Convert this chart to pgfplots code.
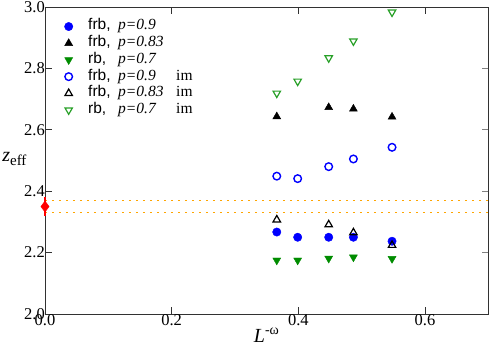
\documentclass[border=0pt]{standalone}
\usepackage{fontspec}
\setmainfont{Liberation Serif}
\setsansfont{Liberation Sans}
\usepackage{pgfplots}
\pgfplotsset{compat=1.18}
\definecolor{cBlue}{RGB}{0,0,255}
\definecolor{cGreen}{RGB}{0,140,0}
\definecolor{cGreenL}{RGB}{40,160,40}
\definecolor{cOrange}{RGB}{255,165,0}
\definecolor{cRed}{RGB}{255,0,0}
\definecolor{axc}{RGB}{50,50,50}
\newcommand{\legtxt}[3]{\makebox[30pt][l]{\sffamily #1}\makebox[58pt][l]{\textit{#2}}#3}
\begin{document}
\begin{tikzpicture}
\begin{axis}[
  name=ax,
  scale only axis, width=443.3pt, height=307pt,
  xmin=0, xmax=0.7, ymin=2.0, ymax=3.0,
  xtick={0,0.2,0.4,0.6}, ytick={2.0,2.2,2.4,2.6,2.8,3.0},
  xticklabels={0.0,0.2,0.4,0.6}, yticklabels={2.0,2.2,2.4,2.6,2.8,3.0},
  ytick pos=left,
  tick align=inside, major tick length=7pt,
  axis line style={axc, line width=0.9pt}, tick style={axc, line width=0.9pt},
  ticklabel style={font=\fontsize{16.5}{18}\selectfont, inner sep=1pt},
  /pgf/number format/assume math mode=true,
  xticklabel style={yshift=1pt},
  yticklabel style={xshift=1pt},
  xlabel={\textit{L}\textsuperscript{-ω}},
  xlabel style={font=\fontsize{20}{22}\selectfont, yshift=2pt},
  clip=false,
  legend style={at={(axis description cs:0,1)}, anchor=north west, xshift=12pt, yshift=-9pt,
    draw=none, fill=none, font=\fontsize{15.5}{16}\selectfont, row sep=0pt,
    nodes={inner sep=0pt, text height=11.7pt, text depth=5pt}},
  legend cell align=left,
  legend image code/.code={\path[draw=none, fill=none] (0pt,-0.1pt) rectangle (28pt,0.1pt); \draw[#1] plot coordinates {(8.5pt,0pt)};},
]
\addplot[only marks, mark=*, mark size=4.2pt, cBlue] coordinates {
  (0.366,2.267) (0.399,2.250) (0.448,2.250) (0.487,2.250) (0.548,2.237)};
\addlegendentry{\legtxt{frb,}{p=0.9}{}}
\addplot[only marks, mark=triangle*, mark size=4.6pt, black] coordinates {
  (0.366,2.643) (0.448,2.673) (0.487,2.668) (0.548,2.642)};
\addlegendentry{\legtxt{frb,}{p=0.83}{}}
\addplot[only marks, mark=triangle*, mark size=4.6pt, cGreen, mark options={rotate=180}] coordinates {
  (0.366,2.175) (0.399,2.175) (0.448,2.181) (0.487,2.185) (0.548,2.180)};
\addlegendentry{\legtxt{rb,}{p=0.7}{}}
\addplot[only marks, mark=o, mark size=3.8pt, cBlue, line width=1.4pt, mark options={fill=white}] coordinates {
  (0.366,2.449) (0.399,2.441) (0.448,2.480) (0.487,2.505) (0.548,2.543)};
\addlegendentry{\legtxt{frb,}{p=0.9}{im}}
\addplot[only marks, mark=triangle, mark size=4.3pt, black, line width=1.2pt, mark options={fill=white}] coordinates {
  (0.366,2.307) (0.448,2.291) (0.487,2.265) (0.548,2.224)};
\addlegendentry{\legtxt{frb,}{p=0.83}{im}}
\addplot[only marks, mark=triangle, mark size=4.3pt, cGreenL, line width=1.2pt, mark options={rotate=180, fill=white}] coordinates {
  (0.366,2.719) (0.399,2.758) (0.448,2.834) (0.487,2.889) (0.548,2.983)};
\addlegendentry{\legtxt{rb,}{p=0.7}{im}}
\addplot[cOrange, line width=1.6pt, dash pattern=on 1.6pt off 5.4pt, forget plot] coordinates {(0,2.37) (0.7,2.37)};
\addplot[cOrange, line width=1.6pt, dash pattern=on 1.6pt off 5.4pt, forget plot] coordinates {(0,2.33) (0.7,2.33)};
\addplot[only marks, mark=diamond*, mark size=5.5pt, cRed, forget plot,
  error bars/.cd, y dir=both, y explicit, error mark options={mark size=3.5pt, line width=1.8pt, cRed},
  error bar style={line width=1.8pt, cRed}] coordinates {(0,2.35) +- (0,0.02)};
\node[font=\fontsize{20}{21}\selectfont, anchor=center] at (rel axis cs:-0.069,0.505)
  {\textit{z}\raisebox{-0.5ex}{\fontsize{15}{15}\selectfont eff}};
\end{axis}
\begin{axis}[
  scale only axis, width=443.3pt, height=307pt,
  xmin=0, xmax=0.7, ymin=2.0, ymax=3.0,
  hide x axis, axis y line*=right, ytick={2.2,2.4,2.6,2.8},
  yticklabels={}, tick align=inside, major tick length=6pt,
  axis line style={draw=none}, ytick style={gray, line width=1.2pt},
]
\end{axis}
\pgfresetboundingbox
\path[use as bounding box] ([xshift=-45pt,yshift=-43pt]ax.south west) rectangle ([xshift=2.7pt,yshift=7pt]ax.north east);
\end{tikzpicture}
\end{document}
